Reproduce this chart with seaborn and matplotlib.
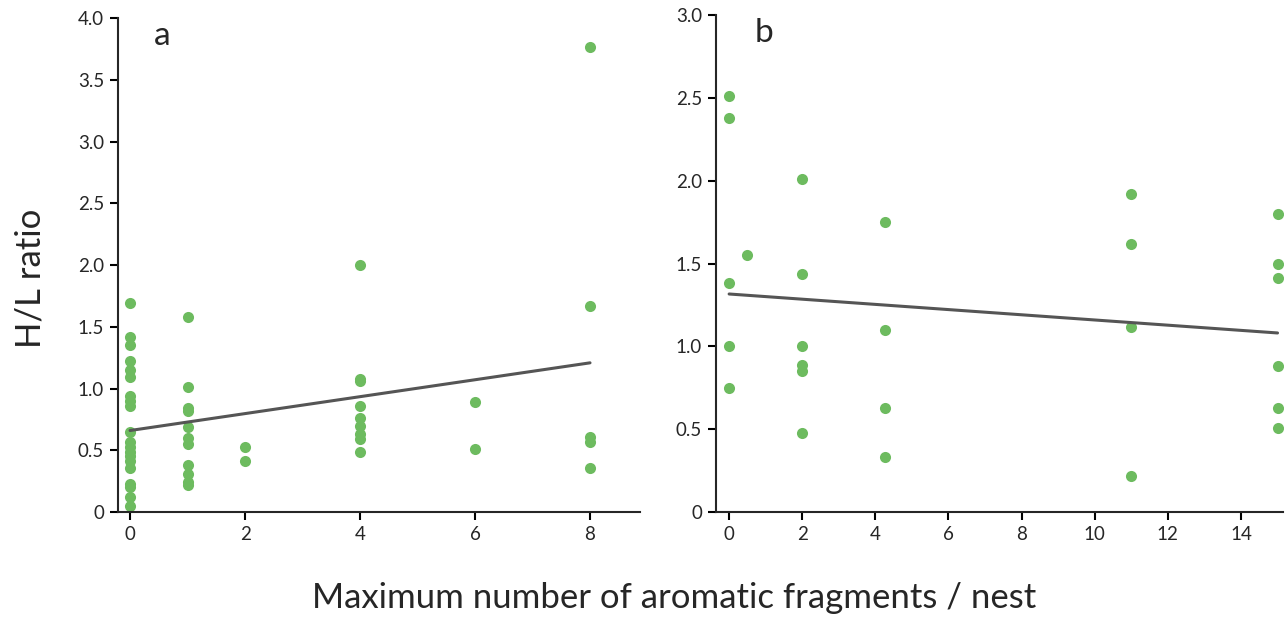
import matplotlib
matplotlib.use('Agg')
import matplotlib.pyplot as plt
import seaborn as sns
import pandas as pd
from matplotlib.ticker import FuncFormatter

# panel a: H/L ratio vs max aromatic fragments per nest
a_x = [0] * 20 + [1] * 11 + [2] * 2 + [4] * 9 + [6] * 2 + [8] * 5
a_y = [1.69, 1.42, 1.35, 1.22, 1.15, 1.09, 0.94, 0.90, 0.86, 0.65,
       0.57, 0.53, 0.49, 0.45, 0.41, 0.36, 0.23, 0.20, 0.12, 0.05,
       1.58, 1.01, 0.84, 0.82, 0.69, 0.60, 0.55, 0.38, 0.31, 0.24, 0.22,
       0.53, 0.41,
       2.00, 1.08, 1.06, 0.86, 0.76, 0.70, 0.63, 0.59, 0.49,
       0.89, 0.51,
       3.77, 1.67, 0.61, 0.57, 0.36]

# panel b
b_x = [0] * 5 + [0.5] + [2] * 6 + [4.25] * 4 + [11] * 4 + [15] * 6
b_y = [2.51, 2.38, 1.38, 1.00, 0.75,
       1.55,
       2.01, 1.44, 1.00, 0.89, 0.85, 0.48,
       1.75, 1.10, 0.63, 0.33,
       1.92, 1.62, 1.12, 0.22,
       1.80, 1.50, 1.41, 0.88, 0.63, 0.51]

a_yticks = [0, 0.5, 1.0, 1.5, 2.0, 2.5, 3.0, 3.5, 4.0]
b_yticks = [0, 0.5, 1.0, 1.5, 2.0, 2.5, 3.0]
a_xticks = [0, 2, 4, 6, 8]
b_xticks = [0, 2, 4, 6, 8, 10, 12, 14]

GREEN = '#6dbb5f'
GREY = '#555555'

sns.set_style('ticks')
plt.rcParams['font.family'] = ['Lato', 'DejaVu Sans']

fig = plt.figure(figsize=(12.87, 6.18), dpi=100)
ax_a = fig.add_axes([0.0917, 0.1715, 0.4056, 0.799])
ax_b = fig.add_axes([0.5563, 0.1715, 0.4406, 0.804])

panels = [
    (ax_a, pd.DataFrame({'x': a_x, 'y': a_y}), 'a', a_xticks, a_yticks, (-0.21, 8.87), (0, 4.0)),
    (ax_b, pd.DataFrame({'x': b_x, 'y': b_y}), 'b', b_xticks, b_yticks, (-0.36, 15.15), (0, 3.0)),
]

fmt = FuncFormatter(lambda v, _: '0' if v == 0 else f'{v:.1f}')

for ax, df, letter, xt, yt, xl, yl in panels:
    sns.regplot(data=df, x='x', y='y', ax=ax, ci=None,
                scatter_kws=dict(s=64, color=GREEN, alpha=1, linewidths=0, zorder=2),
                line_kws=dict(color=GREY, lw=2.2, zorder=3))
    ax.set_xlim(*xl)
    ax.set_ylim(*yl)
    ax.set_xticks(xt)
    ax.set_yticks(yt)
    ax.yaxis.set_major_formatter(fmt)
    ax.set_xlabel('')
    ax.set_ylabel('')
    ax.tick_params(labelsize=13.5, length=6, width=1.5, color='black', pad=4)
    for s in ('left', 'bottom'):
        ax.spines[s].set_linewidth(1.5)
    for s in ('top', 'right'):
        ax.spines[s].set_visible(False)
    ax.text(0.068, 0.965, letter, transform=ax.transAxes, fontsize=24, va='center')

fig.text(0.024, 0.55, 'H/L ratio', rotation=90, fontsize=25, ha='center', va='center')
fig.text(0.524, 0.032, 'Maximum number of aromatic fragments / nest', fontsize=25,
         ha='center', va='center')

plt.savefig('out.png', dpi=100)
plt.close()
